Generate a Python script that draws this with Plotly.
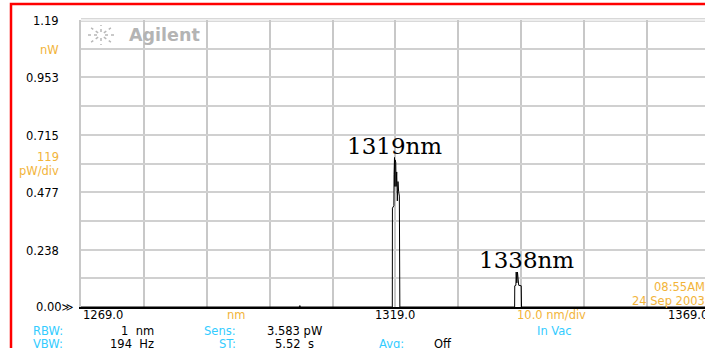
import math
import plotly.graph_objects as go

# Optical spectrum trace: wavelength (nm) vs power (nW)
wavelength_nm = [1269.0, 1303.7, 1303.8, 1303.9,
                 1318.4, 1318.5, 1318.52, 1318.75, 1318.78, 1318.85, 1318.9, 1318.95,
                 1319.0, 1319.05, 1319.1, 1319.2, 1319.3, 1319.4, 1319.5, 1319.62, 1319.7, 1319.8,
                 1337.8, 1337.95, 1337.97, 1338.15, 1338.2, 1338.3, 1338.4, 1338.5, 1338.6, 1339.0, 1339.05,
                 1369.0]
power_nw = [0.0, 0.0, 0.006, 0.0,
            0.0, 0.0, 0.41, 0.42, 0.55, 0.62, 0.50, 0.61,
            0.53, 0.60, 0.50, 0.56, 0.44, 0.52, 0.48, 0.46, 0.0, 0.0,
            0.0, 0.0, 0.088, 0.09, 0.145, 0.10, 0.145, 0.09, 0.09, 0.088, 0.0,
            0.0]

# Axis scale: 10 divisions each way
x_start, x_div = 1269.0, 10.0
y_ref, y_div = 1.19, 0.119

y_tick_values = [1.19, 0.953, 0.715, 0.477, 0.238, 0.00]
y_tick_labels = ["1.19", "0.953", "0.715", "0.477", "0.238", "0.00\u226b"]
x_tick_labels = ["1269.0", "1319.0", "1369.0"]

peak_wavelengths = [1319, 1338]
peak_labels = ["1319nm", "1338nm"]

BLACK = "#000000"
ORANGE = "#f2b43a"
CYAN = "#33ccff"
GRID = "#c8c8c8"
FONT = "DejaVu Sans"

W, H = 705, 348
L, R, T, B = 81, 0, 20, 41
PW, PH = W - L - R, H - T - B


def px(x):
    return (x - L) / PW


def py(y):
    return (T + PH - y) / PH


fig = go.Figure()
fig.add_trace(go.Scatter(
    x=wavelength_nm, y=power_nw, mode="lines",
    line=dict(color=BLACK, width=1), hoverinfo="skip", showlegend=False,
))

annotations = []


def text(x, y, s, color=BLACK, size=11.5, xanchor="left", font=FONT, xref="paper", yref="paper", **kw):
    annotations.append(dict(
        x=x, y=y, xref=xref, yref=yref, text=s, showarrow=False,
        xanchor=xanchor, yanchor="middle",
        font=dict(family=font, size=size, color=color), **kw))


# Y axis labels
for v, s in zip(y_tick_values, y_tick_labels):
    if s.endswith("\u226b"):
        text(px(76), v, s, xanchor="right", yref="y", yshift=0)
    else:
        text(px(61), v, s, xanchor="right", yref="y", yshift=-1)
text(px(61), py(50), "nW", color=ORANGE, xanchor="right")
text(px(61), py(157), "119", color=ORANGE, xanchor="right")
text(px(61), py(171), "pW/div", color=ORANGE, xanchor="right")

# X axis labels
text(px(81), py(315), x_tick_labels[0], xanchor="left")
text(px(395), py(315), x_tick_labels[1], xanchor="center")
text(px(710), py(315), x_tick_labels[2], xanchor="right")
text(px(236), py(315), "nm", color=ORANGE, xanchor="center")
text(px(551), py(315), "10.0 nm/div", color=ORANGE, xanchor="center")

# Instrument settings
text(px(31), py(331), "RBW:", color=CYAN)
text(px(156), py(331), "1  nm", xanchor="right")
text(px(202), py(331), "Sens:", color=CYAN)
text(px(265), py(331), "3.583 pW")
text(px(554), py(331), "In Vac", color=CYAN, xanchor="center")
text(px(31), py(344), "VBW:", color=CYAN)
text(px(156), py(344), "194  Hz", xanchor="right")
text(px(217), py(344), "ST:", color=CYAN)
text(px(273), py(344), "5.52  s")
text(px(377), py(344), "Avg:", color=CYAN)
text(px(432), py(344), "Off")

# Timestamp
text(px(707), py(287), "08:55AM", color=ORANGE, xanchor="right")
text(px(707), py(301), "24 Sep 2003", color=ORANGE, xanchor="right")

# Peak labels
text(peak_wavelengths[0], py(146), peak_labels[0], xref="x", xanchor="center",
     font="DejaVu Serif", size=23, xshift=-1)
text(peak_wavelengths[1], py(260), peak_labels[1], xref="x", xanchor="center",
     font="DejaVu Serif", size=23, xshift=12)

# Logo
annotations.append(dict(
    x=px(127), y=py(35), xref="paper", yref="paper", text="<b>Agilent</b>", showarrow=False,
    xanchor="left", yanchor="middle", font=dict(family=FONT, size=17.5, color="#b4b4b4")))

shapes = []
cx, cy = 101, 35
for k in range(8):
    a = k * math.pi / 4
    shapes.append(dict(
        type="line", xref="paper", yref="paper",
        x0=px(cx + 4 * math.cos(a)), y0=py(cy + 3 * math.sin(a)),
        x1=px(cx + 14 * math.cos(a)), y1=py(cy + 10 * math.sin(a)),
        line=dict(color="#b8b8b8", width=1.5, dash="dot")))

# Double frame line at top of graticule
for yy in (18.8, 21.2):
    shapes.append(dict(type="line", xref="paper", yref="paper",
                       x0=0, x1=1.05, y0=py(yy), y1=py(yy),
                       line=dict(color=GRID, width=1)))

# Red outer border
shapes.append(dict(type="rect", xref="paper", yref="paper",
                   x0=px(11), y0=py(4), x1=px(760), y1=py(420),
                   line=dict(color="#ff0000", width=2.5), fillcolor="rgba(0,0,0,0)"))

fig.update_layout(
    width=W, height=H,
    margin=dict(l=L, r=R, t=T, b=B, pad=0),
    paper_bgcolor="white", plot_bgcolor="white",
    showlegend=False,
    annotations=annotations, shapes=shapes,
    xaxis=dict(range=[x_start, x_start + PW / 6.289], tick0=x_start, dtick=x_div,
               showgrid=True, gridcolor=GRID, gridwidth=2,
               showline=True, linecolor=BLACK, linewidth=1.5,
               showticklabels=False, ticks="", zeroline=False, fixedrange=True),
    yaxis=dict(range=[0, y_ref], tick0=0, dtick=y_div,
               showgrid=True, gridcolor="#d0d0d0", gridwidth=2,
               showline=True, linecolor=GRID, linewidth=2,
               showticklabels=False, ticks="", zeroline=False, fixedrange=True),
)

fig.write_html("out.html", config={"displayModeBar": False})
